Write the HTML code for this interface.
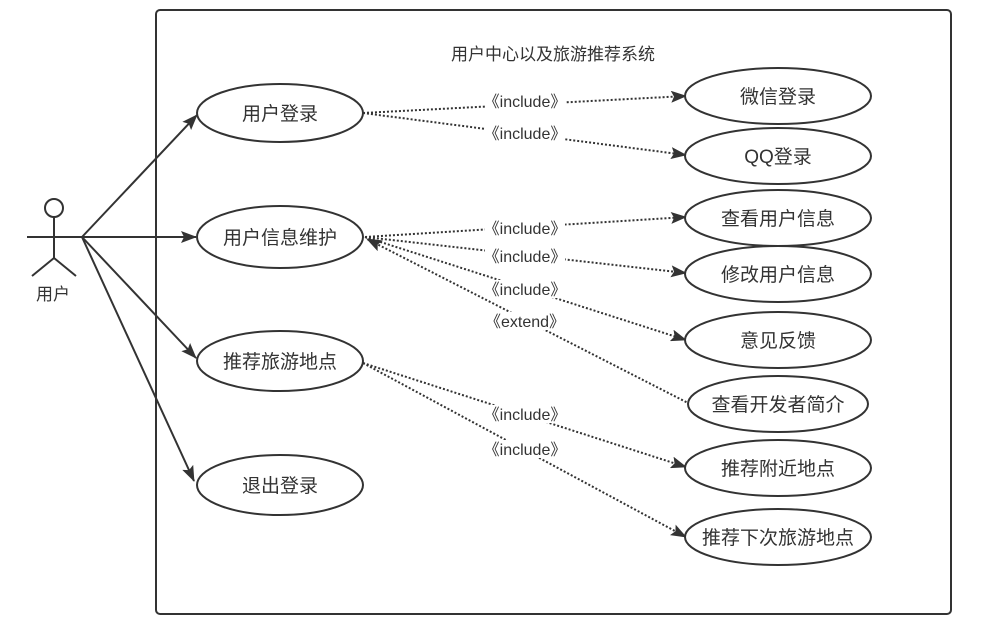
<!DOCTYPE html>
<html><head><meta charset="utf-8"><style>
html,body{margin:0;padding:0;background:#fff;}
svg{display:block;}
text{font-family:"Liberation Sans","Noto Sans CJK SC",sans-serif;fill:#333;}
</style></head><body>
<svg width="999" height="631" viewBox="0 0 999 631" xmlns="http://www.w3.org/2000/svg">
<defs>
<marker id="a" markerWidth="16" markerHeight="12" refX="15" refY="6" orient="auto" markerUnits="userSpaceOnUse">
<path d="M0,0 L16,6 L0,12 L3,6 Z" fill="#333"/>
</marker>
</defs>
<rect x="156" y="10" width="795" height="604" rx="4" fill="none" stroke="#333" stroke-width="2"/>
<text x="553" y="60" font-size="17" text-anchor="middle">用户中心以及旅游推荐系统</text>

<g stroke="#333" stroke-width="2" fill="none">
<circle cx="54" cy="208" r="9" fill="#fff"/>
<line x1="54" y1="217" x2="54" y2="258"/>
<line x1="27" y1="237" x2="82" y2="237"/>
<line x1="54" y1="258" x2="32" y2="276"/>
<line x1="54" y1="258" x2="76" y2="276"/>
</g>
<text x="53" y="300" font-size="17" text-anchor="middle">用户</text>

<g stroke="#333" stroke-width="2" fill="none" marker-end="url(#a)">
<line x1="82" y1="237" x2="197" y2="115"/>
<line x1="82" y1="237" x2="196" y2="237"/>
<line x1="82" y1="237" x2="196" y2="358"/>
<line x1="82" y1="237" x2="194" y2="481"/>
</g>

<g stroke="#333" stroke-width="2" stroke-dasharray="2,2" fill="none" marker-end="url(#a)">
<line x1="363" y1="113" x2="686" y2="96"/>
<line x1="363" y1="113" x2="686" y2="155"/>
<line x1="365" y1="237" x2="686" y2="217"/>
<line x1="365" y1="237" x2="686" y2="273"/>
<line x1="365" y1="237" x2="686" y2="340"/>
<line x1="690" y1="404" x2="367" y2="239"/>
<line x1="363" y1="363" x2="686" y2="467"/>
<line x1="363" y1="363" x2="686" y2="537"/>
</g>

<g font-size="16" text-anchor="middle">
<rect x="485" y="92" width="80" height="18" fill="#fff"/><text x="525" y="107">《include》</text>
<rect x="485" y="124" width="80" height="18" fill="#fff"/><text x="525" y="139">《include》</text>
<rect x="485" y="219" width="80" height="18" fill="#fff"/><text x="525" y="234">《include》</text>
<rect x="485" y="247" width="80" height="18" fill="#fff"/><text x="525" y="262">《include》</text>
<rect x="485" y="280" width="80" height="18" fill="#fff"/><text x="525" y="295">《include》</text>
<rect x="485" y="312" width="80" height="18" fill="#fff"/><text x="525" y="327">《extend》</text>
<rect x="485" y="405" width="80" height="18" fill="#fff"/><text x="525" y="420">《include》</text>
<rect x="485" y="440" width="80" height="18" fill="#fff"/><text x="525" y="455">《include》</text>
</g>

<g stroke="#333" stroke-width="2" fill="#fff">
<ellipse cx="280" cy="113" rx="83" ry="29"/>
<ellipse cx="280" cy="237" rx="83" ry="31"/>
<ellipse cx="280" cy="361" rx="83" ry="30"/>
<ellipse cx="280" cy="485" rx="83" ry="30"/>
<ellipse cx="778" cy="96" rx="93" ry="28"/>
<ellipse cx="778" cy="156" rx="93" ry="28"/>
<ellipse cx="778" cy="218" rx="93" ry="28"/>
<ellipse cx="778" cy="274" rx="93" ry="28"/>
<ellipse cx="778" cy="340" rx="93" ry="28"/>
<ellipse cx="778" cy="404" rx="90" ry="28"/>
<ellipse cx="778" cy="468" rx="93" ry="28"/>
<ellipse cx="778" cy="537" rx="93" ry="28"/>
</g>
<g font-size="19" text-anchor="middle">
<text x="280" y="120">用户登录</text>
<text x="280" y="244">用户信息维护</text>
<text x="280" y="368">推荐旅游地点</text>
<text x="280" y="492">退出登录</text>
<text x="778" y="103">微信登录</text>
<text x="778" y="163">QQ登录</text>
<text x="778" y="225">查看用户信息</text>
<text x="778" y="281">修改用户信息</text>
<text x="778" y="347">意见反馈</text>
<text x="778" y="411">查看开发者简介</text>
<text x="778" y="475">推荐附近地点</text>
<text x="778" y="544">推荐下次旅游地点</text>
</g>
</svg>
</body></html>
